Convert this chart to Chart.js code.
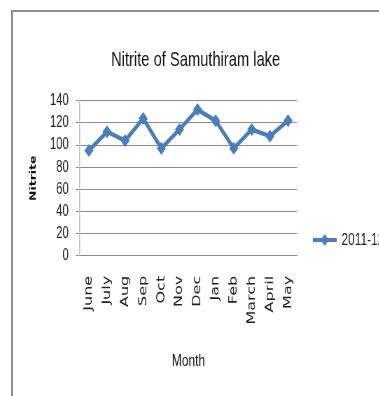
<!DOCTYPE html>
<html>
<head>
<meta charset="utf-8">
<script src="https://cdn.jsdelivr.net/npm/chart.js@4"></script>
<style>
  html, body { margin: 0; padding: 0; background: #fff; }
  #page { position: relative; width: 379px; height: 396px; overflow: hidden; }
  #frame { position: absolute; left: 11px; top: 10px; width: 400px; height: 400px;
           border-left: 2px solid #8f8f8f; border-top: 2px solid #8f8f8f; }
  #wrap { position: absolute; left: 0; top: 0; width: 559px; height: 396px;
          transform: scaleX(0.7); transform-origin: 0 0; }
</style>
</head>
<body>
<div id="page">
  <div id="frame"></div>
  <div id="wrap"><canvas id="line-chart"></canvas></div>
</div>
<script>
const months = ["June", "July", "Aug", "Sep", "Oct", "Nov", "Dec", "Jan", "Feb", "March", "April", "May"];
const nitrite = [95, 112, 104, 124, 97, 114, 132, 122, 97, 114, 108, 122];
const seriesName = "2011-12";
const yTicks = [0, 20, 40, 60, 80, 100, 120, 140];

const blue = "#4a7ebb";

// legend icon: line with a diamond, like the office chart
const icon = document.createElement("canvas");
icon.width = 34;
icon.height = 16;
const ic = icon.getContext("2d");
ic.strokeStyle = blue;
ic.lineWidth = 4;
ic.beginPath();
ic.moveTo(0, 8);
ic.lineTo(34, 8);
ic.stroke();
ic.fillStyle = blue;
ic.beginPath();
ic.moveTo(17, 2);
ic.lineTo(23, 8);
ic.lineTo(17, 14);
ic.lineTo(11, 8);
ic.closePath();
ic.fill();

const data = {
    labels: months,
    datasets: [
        {
            label: seriesName,
            data: nitrite,
            borderColor: blue,
            backgroundColor: blue,
            borderWidth: 4.5,
            tension: 0,
            pointStyle: "rectRot",
            pointRadius: 6,
            pointBackgroundColor: blue,
            pointBorderColor: blue,
            pointBorderWidth: 1,
        },
    ],
};

const config = {
    type: "line",
    data: data,
    options: {
        responsive: true,
        maintainAspectRatio: false,
        animation: false,
        layout: { padding: { left: 0, right: 0, top: 0, bottom: 24 } },
        plugins: {
            title: {
                display: true,
                text: "Nitrite of Samuthiram lake",
                color: "#111",
                font: { family: "Liberation Sans", size: 21, weight: "normal" },
                padding: { top: 48, bottom: 27.5 },
            },
            legend: {
                position: "right",
                align: "center",
                title: { display: true, text: "", font: { size: 12 }, padding: { top: 93.6, bottom: 0 } },
                labels: {
                    usePointStyle: true,
                    pointStyleWidth: 31,
                    padding: 24,
                    color: "#222",
                    font: { family: "Liberation Sans", size: 17 },
                    generateLabels: (chart) => {
                        const items = Chart.defaults.plugins.legend.labels.generateLabels(chart);
                        items.forEach((it) => { it.pointStyle = icon; });
                        return items;
                    },
                },
            },
            tooltip: { enabled: false },
        },
        scales: {
            x: {
                offset: true,
                grid: { display: false, drawTicks: false },
                border: { display: true, color: "#8c8c8c", width: 1 },
                ticks: {
                    autoSkip: false,
                    maxRotation: 90,
                    minRotation: 90,
                    padding: 20,
                    color: "#222",
                    font: { family: "DejaVu Sans", size: 16 },
                },
                title: {
                    display: true,
                    text: "Month",
                    color: "#111",
                    font: { family: "Liberation Sans", size: 17 },
                    padding: { top: 7, bottom: 0 },
                },
            },
            y: {
                min: 0,
                max: 140,
                afterBuildTicks: (axis) => { axis.ticks = yTicks.map((v) => ({ value: v })); },
                grid: { color: "#8c8c8c", lineWidth: 1, tickLength: 6, drawTicks: true },
                border: { display: true, color: "#c4c4c4", width: 1.5 },
                ticks: {
                    autoSkip: false,
                    padding: 10,
                    color: "#222",
                    font: { family: "Liberation Sans", size: 16 },
                },
                title: {
                    display: true,
                    text: "Nitrite",
                    color: "#111",
                    font: { family: "DejaVu Sans", size: 12.5, weight: "bold" },
                    padding: { top: 40, bottom: 6.4 },
                },
            },
        },
    },
};

const myChart = new Chart(document.getElementById("line-chart"), config);
</script>
</body>
</html>
